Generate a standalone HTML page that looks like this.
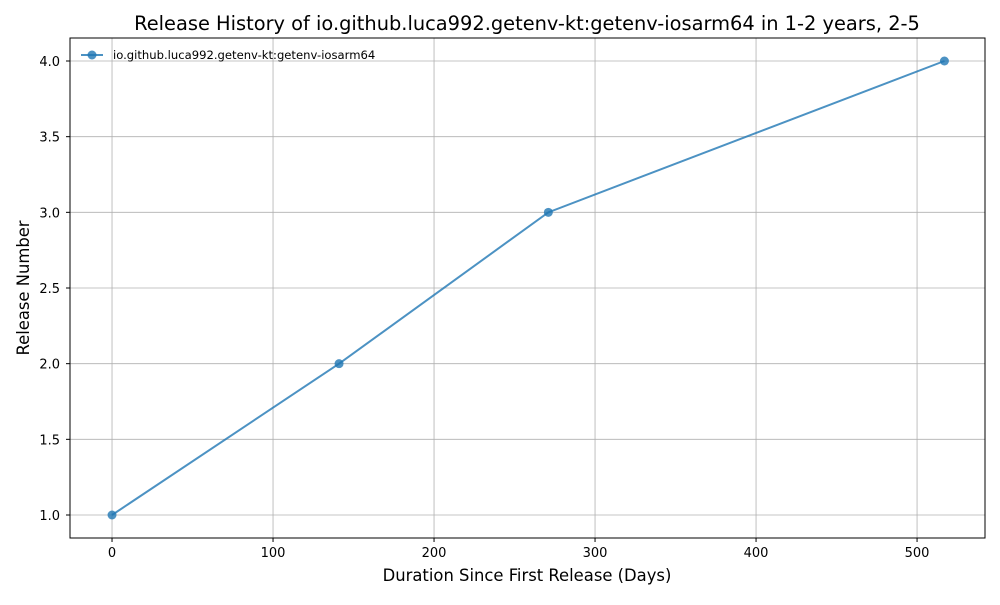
<!DOCTYPE html>
<html><head><meta charset="utf-8"><style>
body{margin:0;background:#fff;font-family:"Liberation Sans","DejaVu Sans",sans-serif}
svg text{font-family:"DejaVu Sans","Liberation Sans",sans-serif}
</style></head><body>
<svg id="chart" width="1000" height="600" xmlns="http://www.w3.org/2000/svg">
<rect width="1000" height="600" fill="#fff"/>
<text x="527" y="30" text-anchor="middle" font-size="19.4">Release History of io.github.luca992.getenv-kt:getenv-iosarm64 in 1-2 years, 2-5</text>
<g id="grid"></g><g id="axes"></g><g id="series"></g>
<text x="527" y="581" text-anchor="middle" font-size="16.4">Duration Since First Release (Days)</text>
<text transform="translate(29,288) rotate(-90)" text-anchor="middle" font-size="16.4">Release Number</text>
<g>
<line x1="81" y1="55" x2="103" y2="55" stroke="#1f77b4" stroke-opacity="0.8" stroke-width="2"/>
<circle cx="92" cy="55" r="4.5" fill="#1f77b4" fill-opacity="0.8"/>
<text x="113" y="59" font-size="11.6">io.github.luca992.getenv-kt:getenv-iosarm64</text>
</g>
</svg>
<script>
const days=[0,141,271,517];
const releases=[1,2,3,4];
const xTicks=[0,100,200,300,400,500];
const yTicks=[1.0,1.5,2.0,2.5,3.0,3.5,4.0];
const L=70,R=985,T=38,B=538;
const x0=-26.1,x1=542.2,y0=0.848,y1=4.152;
const sx=v=>L+(v-x0)/(x1-x0)*(R-L);
const sy=v=>B-(v-y0)/(y1-y0)*(B-T);
const NS="http://www.w3.org/2000/svg";
function mk(t,a,p){const e=document.createElementNS(NS,t);for(const k in a)e.setAttribute(k,a[k]);p.appendChild(e);return e;}
const grid=document.getElementById('grid'),axes=document.getElementById('axes'),ser=document.getElementById('series');
xTicks.forEach(v=>{const X=sx(v);
const g=mk('line',{x1:X,x2:X,y1:T,y2:B,stroke:'#b0b0b0','stroke-width':0.8},grid);

mk('line',{x1:X,x2:X,y1:B,y2:B+4,stroke:'#000'},axes);
const t=mk('text',{x:X,y:B+19,'text-anchor':'middle','font-size':13},axes);t.textContent=v;
});
yTicks.forEach(v=>{const Y=sy(v);
const g=mk('line',{x1:L,x2:R,y1:Y,y2:Y,stroke:'#b0b0b0','stroke-width':0.8},grid);

mk('line',{x1:L-4,x2:L,y1:Y,y2:Y,stroke:'#000'},axes);
const t=mk('text',{x:L-10,y:Y+5,'text-anchor':'end','font-size':13},axes);t.textContent=v.toFixed(1);
});
const frame=mk('rect',{x:L,y:T,width:R-L,height:B-T,fill:'none',stroke:'#000','stroke-width':1},axes);

const pl=mk('polyline',{points:days.map((d,i)=>sx(d)+','+sy(releases[i])).join(' '),fill:'none',stroke:'#1f77b4','stroke-opacity':0.8,'stroke-width':2},ser);

days.forEach((d,i)=>{const c=mk('circle',{cx:sx(d),cy:sy(releases[i]),r:4.5,fill:'#1f77b4','fill-opacity':0.8},ser);
});
</script>
</body></html>
